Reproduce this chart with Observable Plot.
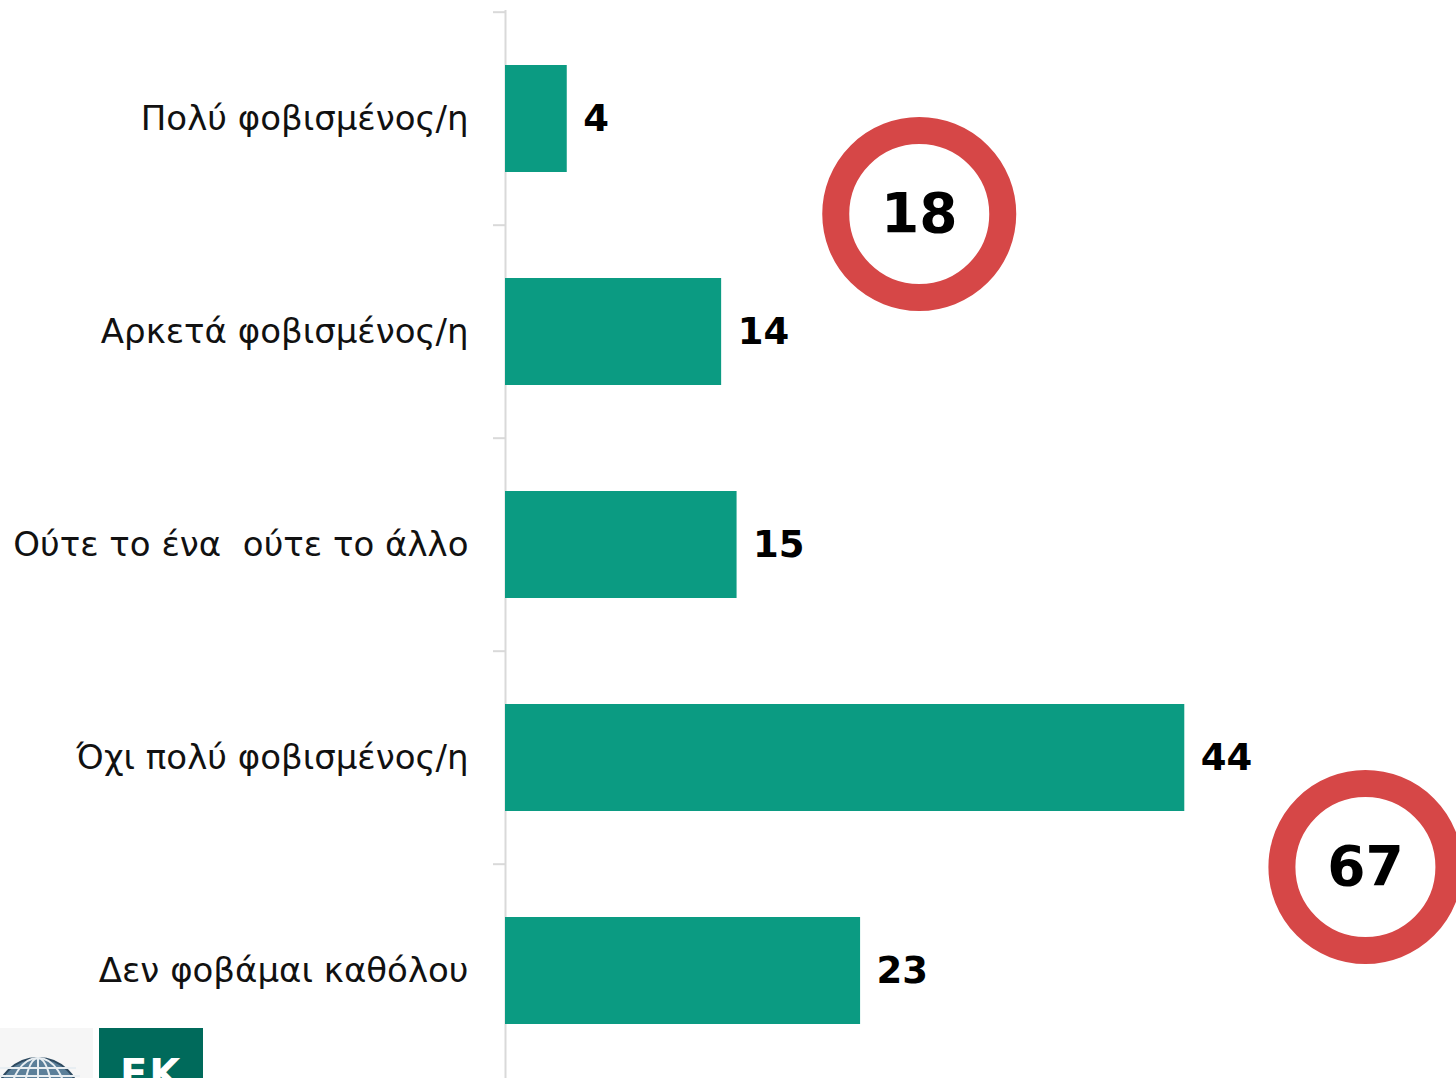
<!DOCTYPE html>
<html>
<head>
<meta charset="utf-8">
<script src="https://cdn.jsdelivr.net/npm/d3@7"></script>
<script src="https://cdn.jsdelivr.net/npm/@observablehq/plot@0.6"></script>
<style>
  html, body { margin: 0; padding: 0; background: #fff; }
  #wrap { position: relative; width: 1456px; height: 1078px; overflow: hidden; }
  #logo1 { position: absolute; left: 0; top: 1028px; width: 93px; height: 50px; background: #f6f6f6; overflow: hidden; }
  #logo2 { position: absolute; left: 99px; top: 1028px; width: 104px; height: 50px; background: #006a5b; overflow: hidden;
           color: #fff; font: bold 40px "DejaVu Sans", sans-serif; text-align: center; line-height: 1; }
  #logo2 span { position: absolute; left: 21px; top: 26px; letter-spacing: 2px; }
</style>
</head>
<body>
<div id="wrap">
  <div id="chart"></div>
  <div id="logo1">
    <svg width="93" height="50">
      <circle cx="38" cy="72" r="42" fill="#5b7f99" stroke="#2e4a60" stroke-width="2"/>
      <g stroke="#e8eef2" stroke-width="2" fill="none">
        <ellipse cx="38" cy="72" rx="14" ry="42"/>
        <ellipse cx="38" cy="72" rx="28" ry="42"/>
        <line x1="38" y1="30" x2="38" y2="80"/>
        <line x1="0" y1="40" x2="76" y2="40"/>
        <line x1="0" y1="48" x2="80" y2="48"/>
      </g>
    </svg>
  </div>
  <div id="logo2"><span>ΕΚ</span></div>
</div>
<script>
const categories = [
  "Πολύ φοβισμένος/η",
  "Αρκετά φοβισμένος/η",
  "Ούτε το ένα  ούτε το άλλο",
  "Όχι πολύ φοβισμένος/η",
  "Δεν φοβάμαι καθόλου"
];
const values = [4, 14, 15, 44, 23];
const ringTotals = [18, 67];
const ringX = [26.8, 55.7];
const ringAbove = ["Πολύ φοβισμένος/η", "Όχι πολύ φοβισμένος/η"];

const data = categories.map((c, i) => ({category: c, value: values[i]}));
const rings = ringTotals.map((t, i) => ({total: t, x: ringX[i], category: ringAbove[i]}));

const W = 1456, H = 1078, mL = 505, mT = 10, mB = 0, mR = 0;
const xMax = 61.6;
const step = (H - mT - mB) / categories.length;
const pxPerUnit = (W - mL - mR) / xMax;

const teal = "#0b9b82";
const red = "#d64747";
const axisGray = "#d9d9d9";
const font = "DejaVu Sans, sans-serif";

const chart = Plot.plot({
  width: W,
  height: H,
  marginLeft: mL,
  marginRight: mR,
  marginTop: mT,
  marginBottom: mB,
  style: {fontFamily: font, background: "white", overflow: "visible"},
  x: {domain: [0, xMax], axis: null},
  y: {domain: categories, paddingInner: 0.5, paddingOuter: 0.25, axis: null},
  marks: [
    Plot.ruleX([0], {stroke: axisGray, strokeWidth: 2}),
    Plot.ruleY(categories, {y: d => d, x1: -12 / pxPerUnit, x2: 0, dy: -step / 2, stroke: axisGray, strokeWidth: 2}),
    Plot.barX(data, {y: "category", x: "value", fill: teal}),
    Plot.text(data, {y: "category", x: 0, text: "category", textAnchor: "end", dx: -37, fontSize: 34, fill: "#111"}),
    Plot.text(data, {y: "category", x: "value", text: d => String(d.value), textAnchor: "start", dx: 16, fontSize: 37, fontWeight: "bold", fill: "#000"}),
    Plot.dot(rings.slice(0, 1), {x: "x", y: "category", r: 83.5, stroke: red, strokeWidth: 27, fill: "white", dy: 95}),
    Plot.text(rings.slice(0, 1), {x: "x", y: "category", text: d => String(d.total), fontSize: 55, fontWeight: "bold", fill: "#000", dy: 95}),
    Plot.dot(rings.slice(1), {x: "x", y: "category", r: 83.5, stroke: red, strokeWidth: 27, fill: "white", dy: 109}),
    Plot.text(rings.slice(1), {x: "x", y: "category", text: d => String(d.total), fontSize: 55, fontWeight: "bold", fill: "#000", dy: 109})
  ]
});
document.getElementById("chart").appendChild(chart);
</script>
</body>
</html>
